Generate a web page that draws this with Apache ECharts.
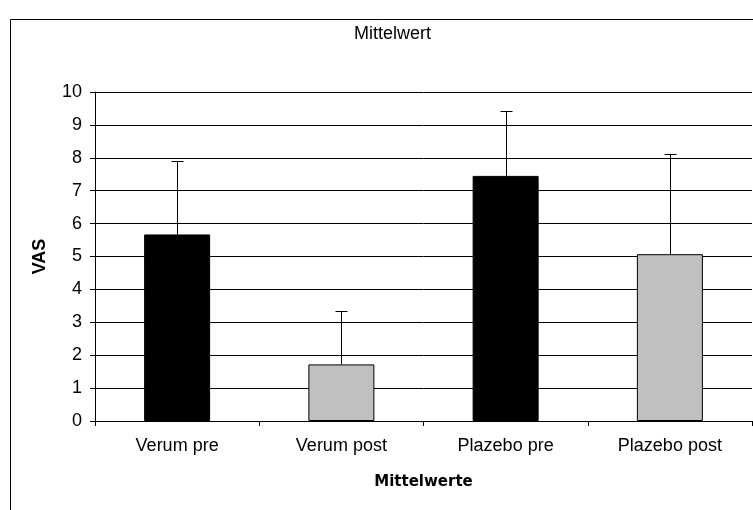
<!DOCTYPE html>
<html><head><meta charset="utf-8">
<script src="https://cdn.jsdelivr.net/npm/echarts@6/dist/echarts.min.js"></script>
<style>html,body{margin:0;padding:0;background:#fff}#c{width:753px;height:510px}</style>
</head><body><div id="c"></div>
<script>
const categories = ["Verum pre", "Verum post", "Plazebo pre", "Plazebo post"];
const means = [5.67, 1.72, 7.45, 5.07];
const sdUpper = [2.23, 1.61, 1.97, 3.05];
const barColors = ["#000000", "#c0c0c0", "#000000", "#c0c0c0"];
const yTicks = [0, 1, 2, 3, 4, 5, 6, 7, 8, 9, 10];

const chart = echarts.init(document.getElementById('c'), null, {renderer: 'canvas'});
const font = 'Liberation Sans, Arial, sans-serif';
chart.setOption({
  animation: false,
  backgroundColor: '#fff',
  graphic: [{type: 'rect', shape: {x: 10.5, y: 19.5, width: 800, height: 600}, style: {fill: 'none', stroke: '#000', lineWidth: 1}, silent: true}],
  title: {text: 'Mittelwert', left: 349, top: 20, textStyle: {fontFamily: font, fontSize: 18, fontWeight: 'normal', color: '#000'}},
  grid: {left: 95, right: 1, top: 92, bottom: 89, containLabel: false},
  xAxis: {
    type: 'category', data: categories,
    axisLine: {lineStyle: {color: '#000', width: 1}},
    axisTick: {show: true, length: 5, inside: false, alignWithLabel: false, lineStyle: {color: '#000'}},
    axisLabel: {color: '#000', fontFamily: font, fontSize: 18, margin: 16},
    name: 'Mittelwerte', nameLocation: 'middle', nameGap: 54,
    nameTextStyle: {fontFamily: 'DejaVu Sans, sans-serif', fontSize: 15, fontWeight: 'bold', color: '#000'}
  },
  yAxis: {
    type: 'value', min: 0, max: 10, interval: 1,
    axisLine: {show: true, lineStyle: {color: '#000', width: 1}},
    axisTick: {show: true, length: 5, lineStyle: {color: '#000'}},
    axisLabel: {color: '#000', fontFamily: font, fontSize: 18, margin: 13, formatter: v => yTicks.includes(v) ? String(v) : ''},
    splitLine: {show: true, lineStyle: {color: '#000', width: 1}},
    name: 'VAS', nameLocation: 'middle', nameGap: 46,
    nameTextStyle: {fontFamily: font, fontSize: 18, fontWeight: 'bold', color: '#000'}
  },
  series: [
    {
      type: 'bar', barWidth: 66,
      data: means.map((v, i) => ({value: v, itemStyle: {color: barColors[i], borderColor: '#000', borderWidth: 1}})),
      z: 2
    },
    {
      type: 'custom', z: 3,
      data: means.map((v, i) => [i, v, v + sdUpper[i]]),
      renderItem: function (params, api) {
        const b = api.coord([api.value(0), api.value(1)]);
        const t = api.coord([api.value(0), api.value(2)]);
        const x = Math.round(b[0]) + 0.5;
        const ty = Math.round(t[1]) + 0.5;
        return {type: 'group', children: [
          {type: 'line', shape: {x1: x, y1: b[1], x2: x, y2: ty}, style: {stroke: '#000', lineWidth: 1}},
          {type: 'line', shape: {x1: x - 6, y1: ty, x2: x + 6, y2: ty}, style: {stroke: '#000', lineWidth: 1}}
        ]};
      }
    }
  ]
});
</script></body></html>
